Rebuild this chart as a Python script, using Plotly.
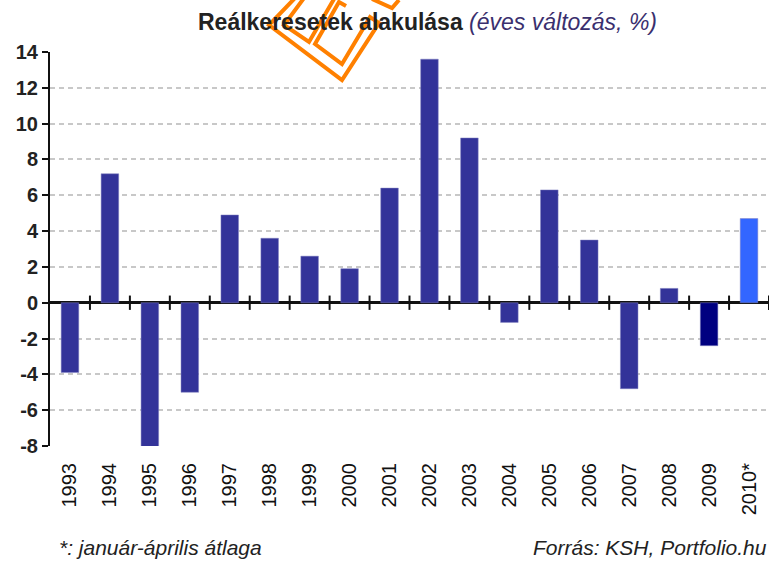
import plotly.graph_objects as go

years = ["1993", "1994", "1995", "1996", "1997", "1998", "1999", "2000", "2001",
         "2002", "2003", "2004", "2005", "2006", "2007", "2008", "2009", "2010*"]
values = [-3.9, 7.2, -8.2, -5.0, 4.9, 3.6, 2.6, 1.9, 6.4,
          13.6, 9.2, -1.1, 6.3, 3.5, -4.8, 0.8, -2.4, 4.7]
bar_colors = ["#333399"] * 16 + ["#000080", "#3366FF"]
y_ticks = list(range(-8, 15, 2))

W, H = 771, 562
ML, MR, MT, MB = 50, 2, 52, 116
PW, PH = W - ML - MR, H - MT - MB
FONT = "Liberation Sans, Arial, sans-serif"


def px(x, y):
    return (x - ML) / PW, (H - MB - y) / PH


def path(points, close=True):
    s = ""
    for i, (x, y) in enumerate(points):
        a, b = px(x, y)
        s += ("M" if i == 0 else "L") + f"{a:.4f},{b:.4f} "
    return s + ("Z" if close else "")


fig = go.Figure()
fig.add_trace(go.Bar(
    x=years, y=values,
    marker=dict(color=bar_colors, line=dict(color="#8080C0", width=0.5)),
    width=0.44,
    hoverinfo="x+y",
))

shapes = []
# category boundary ticks crossing the zero line
for i in range(len(years)):
    shapes.append(dict(type="line", xref="x", yref="y", x0=i + 0.5, x1=i + 0.5,
                       y0=-0.4, y1=0.4, line=dict(color="#111111", width=2)))

# Portfolio logo watermark (approximate outline)
orange = "#FF8000"
logo_paths = [
    path([(295, -2), (269, 25), (342, 80), (379, 23), (370, 17), (342, 64),
          (315, 44), (339, 2), (346, 6)], close=False),
    path([(304, -2), (284, 25), (309, 42), (334, -1)], close=False),
    path([(372, -1), (392, 8), (399, 0)], close=False),
]
for p in logo_paths:
    shapes.append(dict(type="path", xref="paper", yref="paper", path=p,
                       line=dict(color=orange, width=4), layer="above"))

fig.update_layout(
    width=W, height=H,
    margin=dict(l=ML, r=MR, t=MT, b=MB, autoexpand=False),
    paper_bgcolor="white", plot_bgcolor="white",
    showlegend=False,
    font=dict(family=FONT, color="#222222"),
    shapes=shapes,
    xaxis=dict(
        type="category", tickangle=-90, showgrid=False, showline=False,
        ticks="", tickfont=dict(size=20, color="#111111"),
        ticklabelstandoff=12,
        range=[-0.5, len(years) - 0.5], automargin=False,
    ),
    yaxis=dict(
        range=[-8, 14], tickvals=y_ticks, ticktext=[str(v) for v in y_ticks],
        tickfont=dict(size=20, color="#222222", family=FONT, weight="bold"),
        showline=True, linecolor="#111111", linewidth=2,
        ticks="outside", ticklen=6, tickwidth=2, tickcolor="#111111",
        showgrid=True, gridcolor="#C8C8C8", gridwidth=2, griddash="5px,4px",
        zeroline=True, zerolinecolor="#111111", zerolinewidth=2.5,
        automargin=False,
    ),
    annotations=[
        dict(xref="paper", yref="paper", x=px(428, 0)[0], y=px(0, 22)[1],
             xanchor="center", yanchor="middle", showarrow=False,
             text="<b>Reálkeresetek alakulása</b> <i><span style='color:#3a2f6e'>(éves változás, %)</span></i>",
             font=dict(size=23, color="#222222")),
        dict(xref="paper", yref="paper", x=px(57, 0)[0], y=px(0, 547)[1],
             xanchor="left", yanchor="middle", showarrow=False,
             text="<i>*: január-április átlaga</i>", font=dict(size=21, color="#222222")),
        dict(xref="paper", yref="paper", x=px(769, 0)[0], y=px(0, 547)[1],
             xanchor="right", yanchor="middle", showarrow=False,
             text="<i>Forrás: KSH, Portfolio.hu</i>", font=dict(size=21, color="#222222")),
    ],
)

fig.write_html("out.html", config={"displayModeBar": False},
               post_script="document.body.style.margin='0';document.body.style.overflow='hidden';")
